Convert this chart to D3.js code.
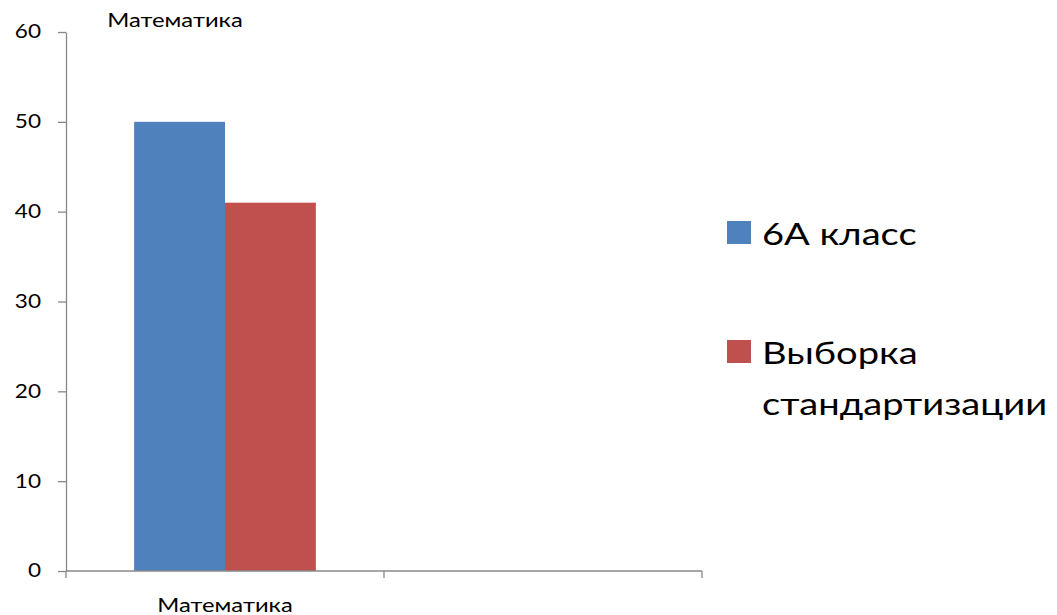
<!DOCTYPE html>
<html><head><meta charset="utf-8">
<script src="https://cdn.jsdelivr.net/npm/d3@7"></script>
<style>body{margin:0;background:#fff;} svg{display:block;font-family:Lato, "Open Sans", sans-serif;}</style>
</head><body>
<svg id="chart" width="1057" height="615"></svg>
<script>
const categories = ["Математика", ""];
const seriesNames = ["6А класс", "Выборка стандартизации"];
const series1 = [50, null];
const series2 = [41, null];
const yTicks = [0, 10, 20, 30, 40, 50, 60];
const colors = ["#4F81BD", "#C0504D"];
const title = "Математика";

(function () {
const svg = d3.select("#chart");
const mLeft = 66, mRight = 702, mTop = 32, mBottom = 571;

function stretch(sel, k) {
  sel.each(function () {
    const w = this.getComputedTextLength();
    if (w > 0) d3.select(this).attr("textLength", w * k).attr("lengthAdjust", "spacingAndGlyphs");
  });
}

const x0 = d3.scaleBand().domain(categories).range([mLeft, mRight]).padding(0);
const bw = x0.bandwidth();
const barW = bw / 3.5;
const x1 = d3.scaleBand().domain(seriesNames).range([0.75 * barW, 2.75 * barW]).padding(0);
const y = d3.scaleLinear().domain([0, 60]).range([mBottom, mTop]);

// y axis
const yAxis = svg.append("g").attr("transform", `translate(${mLeft},0)`)
  .call(d3.axisLeft(y).tickValues(yTicks).tickSize(8).tickPadding(17).tickSizeOuter(0));
yAxis.select(".domain").attr("stroke", "#888").attr("stroke-width", 1.3);
yAxis.selectAll(".tick line").attr("stroke", "#888").attr("stroke-width", 1.3);
yAxis.selectAll("text").attr("font-size", 18.5).attr("fill", "#000").attr("font-family", "Lato");
stretch(yAxis.selectAll("text"), 1.22);

// bars
const data = [];
categories.forEach((c, i) => {
  [series1, series2].forEach((s, j) => {
    if (s[i] != null) data.push({cat: c, name: seriesNames[j], value: s[i], color: colors[j]});
  });
});
svg.append("g").selectAll("rect").data(data).join("rect")
  .attr("x", d => x0(d.cat) + x1(d.name))
  .attr("width", x1.bandwidth())
  .attr("y", d => y(d.value))
  .attr("height", d => y(0) - y(d.value))
  .attr("fill", d => d.color);

// x axis
const xAxisG = svg.append("g").attr("transform", `translate(0,${mBottom})`);
xAxisG.append("line").attr("x1", mLeft).attr("x2", mRight).attr("stroke", "#888").attr("stroke-width", 1.3);
const bounds = [mLeft, ...categories.map(c => x0(c) + bw)];
xAxisG.selectAll("line.tk").data(bounds).join("line").attr("class", "tk")
  .attr("x1", d => d).attr("x2", d => d).attr("y1", 0).attr("y2", 7)
  .attr("stroke", "#888").attr("stroke-width", 1.3);
const xl = xAxisG.selectAll("text").data(categories).join("text")
  .attr("x", d => x0(d) + bw / 2).attr("y", 41)
  .attr("text-anchor", "middle").attr("font-size", 19.5).text(d => d);
stretch(xl, 1.22);

// title
const tt = svg.append("text").attr("x", 175).attr("y", 27).attr("text-anchor", "middle")
  .attr("font-size", 19.5).text(title);
stretch(tt, 1.22);

// legend
const legend = svg.append("g");
const legItems = [
  {lines: [seriesNames[0]], color: colors[0], y: 221},
  {lines: ["Выборка", "стандартизации"], color: colors[1], y: 340}
];
legItems.forEach(it => {
  legend.append("rect").attr("x", 727).attr("y", it.y).attr("width", 24).attr("height", 23).attr("fill", it.color);
  it.lines.forEach((l, k) => {
    const t = legend.append("text").attr("x", 762).attr("y", it.y + 23.5 + k * 51)
      .attr("font-size", 30.5).text(l);
    stretch(t, 1.25);
  });
});
})();
</script>
</body></html>
